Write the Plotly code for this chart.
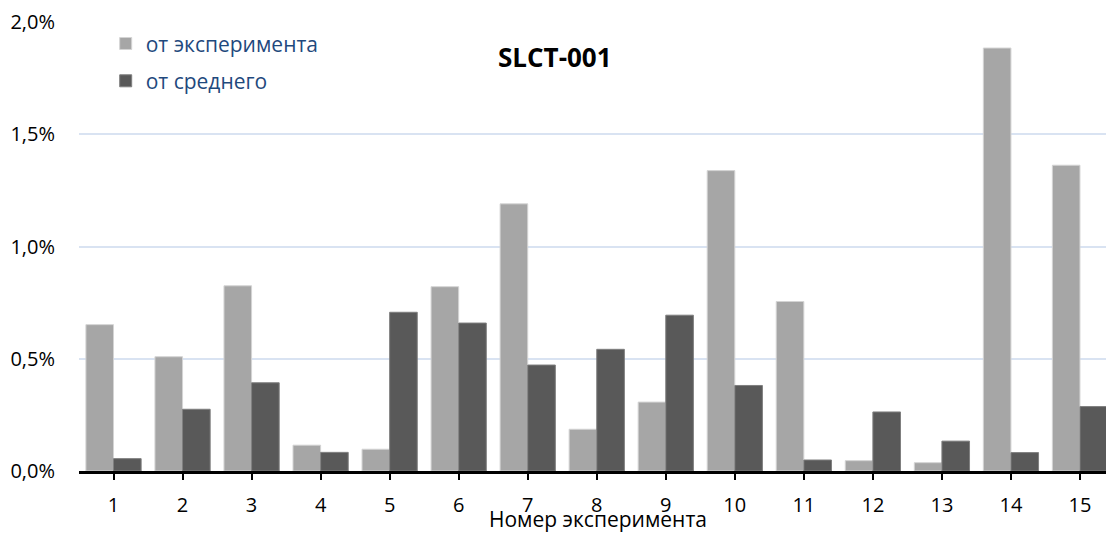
import plotly.graph_objects as go

experiments = list(range(1, 16))
tick_labels = [str(i) for i in experiments]
# values in percent
from_experiment = [0.652, 0.509, 0.825, 0.115, 0.097, 0.821, 1.190, 0.186, 0.307,
                   1.338, 0.755, 0.046, 0.037, 1.884, 1.362]
from_mean = [0.055, 0.275, 0.393, 0.083, 0.707, 0.659, 0.472, 0.542, 0.694,
             0.381, 0.049, 0.263, 0.133, 0.082, 0.287]
series_names = ["от эксперимента", "от среднего"]
y_ticks = [0.0, 0.5, 1.0, 1.5, 2.0]
chart_title = "SLCT-001"
x_title = "Номер эксперимента"

FONT = "Open Sans, Noto Sans, sans-serif"

fig = go.Figure()
fig.add_trace(go.Bar(
    x=experiments, y=[v / 100 for v in from_experiment], name=series_names[0],
    legendgroup="a",
    marker=dict(color="#a6a6a6", line=dict(color="#d4d4d4", width=1)),
))
fig.add_trace(go.Bar(
    x=experiments, y=[v / 100 for v in from_mean], name=series_names[1],
    legendgroup="b",
    marker=dict(color="#595959", line=dict(color="#7f7f7f", width=1)),
))

fig.update_layout(
    width=1106, height=533,
    margin=dict(l=79, r=0, t=22, b=62),
    paper_bgcolor="white", plot_bgcolor="white",
    separators=", ",
    barmode="group", bargap=0.2, bargroupgap=0,
    font=dict(family=FONT, size=20, color="black"),
    showlegend=True,
    legend=dict(
        x=0.026, y=0.997, xanchor="left", yanchor="top",
        font=dict(family=FONT, size=21, color="#1f497d"),
        bgcolor="rgba(0,0,0,0)", borderwidth=0,
        tracegroupgap=7,
    ),
    annotations=[
        dict(
            text="<b>" + chart_title + "</b>", xref="paper", yref="paper",
            x=0.463, y=0.922, xanchor="center", yanchor="middle",
            showarrow=False, font=dict(family=FONT, size=26, color="black"),
        ),
        dict(
            text=x_title, xref="paper", yref="paper",
            x=0.505, y=-0.108, xanchor="center", yanchor="middle",
            showarrow=False, font=dict(family=FONT, size=21, color="black"),
        ),
    ],
)

fig.update_xaxes(
    range=[0.5, 15.377],
    tickmode="array", tickvals=experiments, ticktext=tick_labels,
    showline=True, linecolor="black", linewidth=2.5,
    ticks="outside", ticklen=6, tickwidth=2, tickcolor="black",
    ticklabelstandoff=8,
    showgrid=False, zeroline=False,
    tickfont=dict(family=FONT, size=20, color="black"),
)
fig.update_yaxes(
    range=[0, 0.02],
    tickmode="array", tickvals=[t / 100 for t in y_ticks], tickformat=".1%",
    showline=False, ticks="", zeroline=False,
    showgrid=True, gridcolor="#d9e3f2", gridwidth=1.5,
    tickfont=dict(family=FONT, size=20, color="black"),
    ticklabelstandoff=23,
)

fig.write_html("out.html")
